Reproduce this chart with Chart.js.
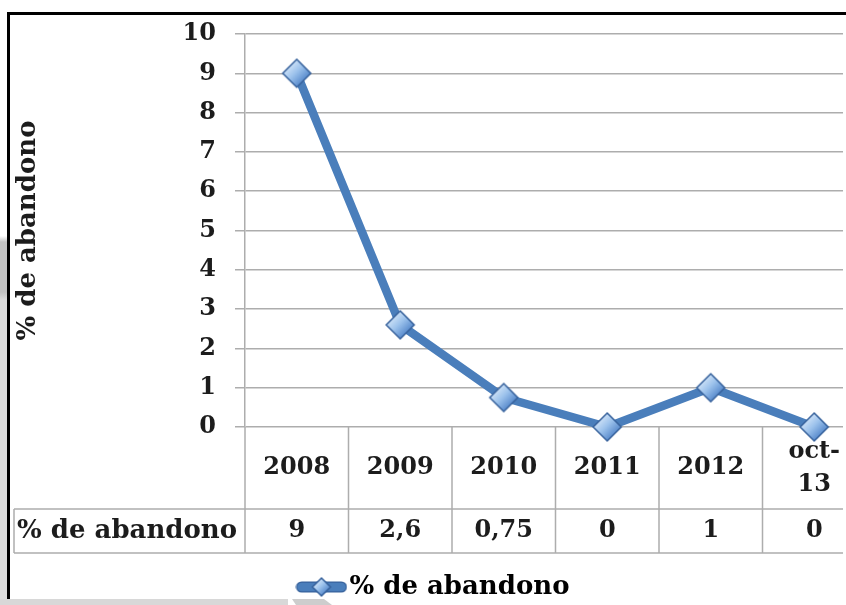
<!DOCTYPE html>
<html>
<head>
<meta charset="utf-8">
<script src="https://cdn.jsdelivr.net/npm/chart.js@4/dist/chart.umd.min.js"></script>
<style>
  html, body { margin: 0; padding: 0; width: 846px; height: 605px; overflow: hidden; background: #fff; position: relative; }
  #edge { position: absolute; left: 0; top: 0; width: 7px; height: 605px;
          background: linear-gradient(to bottom, #fff 0, #fff 236px, #c2c2c2 242px, #c2c2c2 292px, #dcdcdc 300px, #dcdcdc 100%); }
  #frame { position: absolute; left: 7px; top: 12px; width: 900px; height: 700px;
           border-left: 3px solid #000; border-top: 3px solid #000; box-sizing: border-box; }
  #wrap { position: absolute; left: 10px; top: 15px; width: 856px; height: 595px; }
  #trim { position: absolute; left: 843px; top: 15px; width: 3px; height: 590px; background: #fff; }
  #floorA { position: absolute; left: 0; top: 599px; width: 288px; height: 6px; background: #d8d8d8; }
  #floorB { position: absolute; left: 284px; top: 599px; width: 48px; height: 6px; background: #cdcdcd;
            clip-path: polygon(8px 0, 40px 0, 48px 100%, 12px 100%); }
</style>
</head>
<body>
<div id="edge"></div>
<div id="frame"></div>
<div id="wrap"><canvas id="chart" width="856" height="595"></canvas></div>
<div id="trim"></div>
<div id="floorA"></div>
<div id="floorB"></div>
<script>
// Dropout rate by year, with the values repeated in a data table under the axis
const categories = ['2008', '2009', '2010', '2011', '2012', 'oct-13'];
const values = [9, 2.6, 0.75, 0, 1, 0];
const yTicks = [0, 1, 2, 3, 4, 5, 6, 7, 8, 9, 10];
const seriesName = '% de abandono';
const axisTitle = '% de abandono';

const FONT = 'DejaVu Serif';
const TEXT = '#1c1c1c';
const GRID = '#adadad';
const LINE = '#4a7ebb';

// "oct-13" breaks after the hyphen inside its table cell
function labelLines(label) {
  const i = label.indexOf('-');
  return i >= 0 ? [label.slice(0, i + 1), label.slice(i + 1)] : [label];
}
// Spanish decimal comma
function fmt(v) { return String(v).replace('.', ','); }

// Bevelled diamond marker
function diamond(r) {
  const s = Math.ceil(2 * r + 4);
  const c = document.createElement('canvas');
  c.width = s; c.height = s;
  const g = c.getContext('2d');
  const m = s / 2;
  g.beginPath();
  g.moveTo(m, m - r); g.lineTo(m + r, m); g.lineTo(m, m + r); g.lineTo(m - r, m);
  g.closePath();
  const gr = g.createLinearGradient(m - r * 0.6, m - r * 0.6, m + r * 0.6, m + r * 0.6);
  gr.addColorStop(0, '#d3e5f8');
  gr.addColorStop(0.45, '#9cc2ec');
  gr.addColorStop(1, '#4f83c8');
  g.fillStyle = gr;
  g.fill();
  g.lineWidth = 1.5;
  g.strokeStyle = '#37629c';
  g.stroke();
  return c;
}

// Legend swatch: thick line with a diamond in the middle
function legendSwatch() {
  const w = 52, h = 22;
  const c = document.createElement('canvas');
  c.width = w; c.height = h;
  const g = c.getContext('2d');
  g.lineCap = 'round';
  g.strokeStyle = '#37629c';
  g.lineWidth = 11;
  g.beginPath(); g.moveTo(6, h / 2); g.lineTo(w - 6, h / 2); g.stroke();
  g.strokeStyle = LINE;
  g.lineWidth = 8.5;
  g.beginPath(); g.moveTo(6, h / 2); g.lineTo(w - 6, h / 2); g.stroke();
  const d = diamond(9);
  g.drawImage(d, (w - d.width) / 2, (h - d.height) / 2);
  return c;
}

const marker = diamond(14);
const swatch = legendSwatch();

// Table under the plot: category row, value row and row header
const dataTable = {
  id: 'dataTable',
  beforeDatasetsDraw(chart) {
    const { ctx, chartArea, scales: { x } } = chart;
    const step = x.getPixelForValue(1) - x.getPixelForValue(0);
    const first = x.getPixelForValue(0) - step / 2;
    const top = chartArea.bottom;
    const mid = top + 82;
    const bot = mid + 44;
    const headLeft = 4;
    const right = chartArea.right;

    ctx.save();
    ctx.strokeStyle = GRID;
    ctx.lineWidth = 1.5;
    ctx.beginPath();
    for (let i = 0; i <= categories.length; i++) {
      const xp = first + i * step;
      ctx.moveTo(xp, top); ctx.lineTo(xp, bot);
    }
    ctx.moveTo(headLeft, mid); ctx.lineTo(right, mid);
    ctx.moveTo(headLeft, bot); ctx.lineTo(right, bot);
    ctx.moveTo(headLeft, mid); ctx.lineTo(headLeft, bot);
    ctx.stroke();

    ctx.fillStyle = TEXT;
    ctx.font = 'bold 24px "' + FONT + '"';
    ctx.textBaseline = 'middle';
    ctx.textAlign = 'center';
    const rowMid = (top + mid) / 2;
    const valMid = (mid + bot) / 2;
    categories.forEach((c, i) => {
      const xp = x.getPixelForValue(i);
      const lines = labelLines(c);
      const lh = 33;
      lines.forEach((t, k) => {
        ctx.fillText(t, xp, rowMid + (k - (lines.length - 1) / 2) * lh);
      });
      ctx.fillText(fmt(values[i]), xp, valMid);
    });
    ctx.textAlign = 'left';
    ctx.font = 'bold 26px "' + FONT + '"';
    ctx.fillText(seriesName, headLeft + 3, valMid);
    ctx.restore();
  }
};

new Chart(document.getElementById('chart'), {
  type: 'line',
  data: {
    labels: categories,
    datasets: [{
      label: seriesName,
      data: values,
      borderColor: LINE,
      borderWidth: 8.5,
      borderJoinStyle: 'round',
      tension: 0,
      pointStyle: marker,
      pointRadius: 14,
      clip: false
    }]
  },
  options: {
    responsive: false,
    animation: false,
    devicePixelRatio: 1,
    layout: { autoPadding: false, padding: { top: 19, left: 0, right: 0, bottom: 0 } },
    plugins: {
      tooltip: { enabled: false },
      legend: {
        position: 'bottom',
        labels: {
          usePointStyle: true,
          pointStyleWidth: 30,
          padding: 10,
          color: TEXT,
          font: { family: FONT, size: 26, weight: 'bold' },
          generateLabels: () => [{
            text: seriesName,
            pointStyle: swatch,
            fillStyle: LINE,
            strokeStyle: LINE,
            lineWidth: 0,
            hidden: false,
            datasetIndex: 0
          }]
        }
      }
    },
    scales: {
      x: {
        offset: true,
        grid: { display: false },
        border: { display: false },
        ticks: { display: false },
        afterFit(s) { s.height = 137; }
      },
      y: {
        min: yTicks[0],
        max: yTicks[yTicks.length - 1],
        ticks: {
          stepSize: 1,
          padding: 19,
          color: TEXT,
          font: { family: FONT, size: 24, weight: 'bold' }
        },
        grid: { color: GRID, lineWidth: 1.5, tickLength: 10, drawTicks: true },
        border: { color: GRID, width: 1.5 },
        title: {
          display: true,
          text: axisTitle,
          color: TEXT,
          font: { family: FONT, size: 26, weight: 'bold' },
          padding: { top: 3, bottom: 0 }
        },
        afterFit(s) {
          s.width = 235;
          s.paddingTop = 0;
          s.paddingBottom = 0;
        }
      }
    }
  },
  plugins: [dataTable]
});
</script>
</body>
</html>
